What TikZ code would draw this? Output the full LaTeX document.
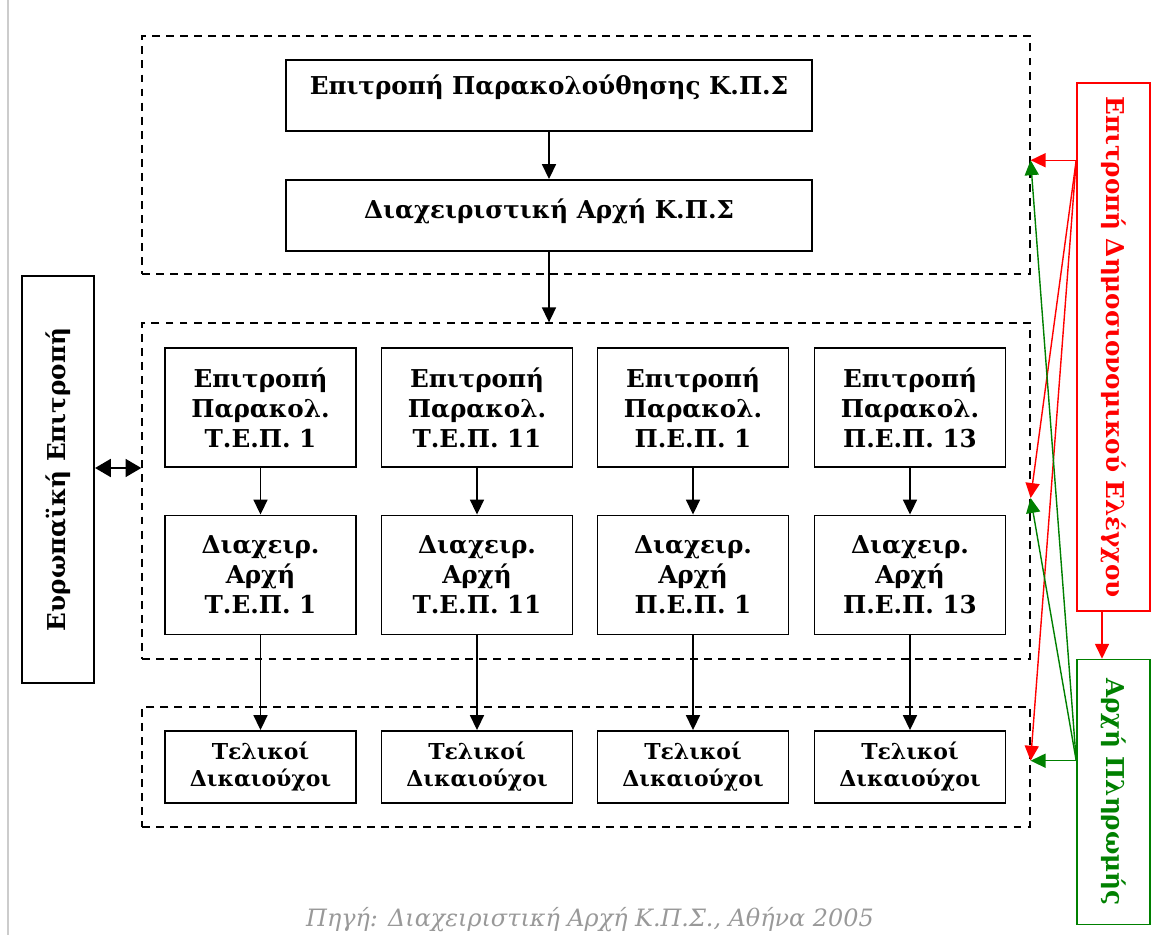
\documentclass[tikz,border=0pt]{standalone}
\usepackage{fontspec}
\setmainfont{DejaVu Serif}
\usetikzlibrary{arrows.meta}
\begin{document}
\begin{tikzpicture}[x=0.02cm,y=-0.02cm,
    box/.style={draw,line width=1.1pt,align=center,inner sep=1pt,font=\fontsize{14}{17}\selectfont\bfseries},
    grp/.style={draw,line width=0.8pt,dash pattern=on 4.5pt off 3.5pt},
    arr/.style={-{Triangle[length=8.5pt,width=8pt]},line width=0.8pt}]
  \useasboundingbox (0,0) rectangle (1163,935);
  \draw[black!20,line width=1.1pt] (8,0) -- (8,935);
  % dashed groups
  \node[grp,minimum width=17.76cm,minimum height=4.76cm] (top) at (586,155) {};
  \node[grp,minimum width=17.76cm,minimum height=6.72cm] (mid) at (586,491) {};
  \node[grp,minimum width=17.76cm,minimum height=2.4cm] (bot) at (586,767) {};
  % national level
  \node[box,inner sep=0pt,minimum width=10.52cm,text height=0.7cm,text depth=0.72cm] (epks) at (549,95.5) {Επιτροπή Παρακολούθησης Κ.Π.Σ};
  \node[box,inner sep=0pt,minimum width=10.52cm,text height=0.78cm,text depth=0.64cm] (daks) at (549,215.5) {Διαχειριστική Αρχή Κ.Π.Σ};
  \draw[arr] (epks) -- (daks);
  \draw[arr] (daks) -- (daks.south |- mid.north);
  % programmes
  \foreach \i/\x/\lab in {1/260.5/Τ.Ε.Π. 1, 2/477/Τ.Ε.Π. 11, 3/693/Π.Ε.Π. 1, 4/910/Π.Ε.Π. 13}{
    \node[box,minimum width=3.82cm,minimum height=2.38cm] (p\i) at (\x,407.5) {Επιτροπή\\Παρακολ.\\\lab};
    \node[box,minimum width=3.82cm,minimum height=2.38cm] (d\i) at (\x,575) {Διαχειρ.\\Αρχή\\\lab};
    \node[box,minimum width=3.82cm,minimum height=1.44cm,font=\fontsize{12.5}{15.5}\selectfont\bfseries] (t\i) at (\x,767) {Τελικοί\\Δικαιούχοι};
    \draw[arr] (p\i) -- (d\i);
    \draw[arr] (d\i) -- (t\i);
  }
  % european commission
  \node[box,minimum width=1.44cm,minimum height=8.14cm] (ee) at (58,479.5) {\rotatebox{90}{Ευρωπαϊκή Επιτροπή}};
  \draw[{Triangle[length=9pt,width=10pt]}-{Triangle[length=9pt,width=10pt]},line width=1.7pt]
    ([yshift=0.23cm]ee.east) -- ([yshift=0.23cm]ee.east -| mid.west);
  % control and payment
  \node[box,draw=red,text=red,line width=0.9pt,minimum width=1.46cm,minimum height=10.56cm] (edl) at (1113.5,347) {\rotatebox{-90}{Επιτροπή Δημοσιονομικού Ελέγχου}};
  \node[box,draw=green!50!black,text=green!50!black,line width=0.9pt,minimum width=1.46cm,minimum height=5.3cm] (ap) at (1113.5,792) {\rotatebox{-90}{Αρχή Πληρωμής}};
  \coordinate (rx) at (1102,0);
  \draw[arr,red] (edl.south -| rx) -- (ap.north -| rx);
  \coordinate (rs) at ([yshift=-1.56cm]edl.north west);
  \coordinate (gs) at ([yshift=-2.04cm]ap.north west);
  \coordinate (in1) at (top.east |- rs);
  \coordinate (in2) at ([yshift=-0.14cm]mid.east);
  \coordinate (in3) at (bot.east |- gs);
  \foreach \t in {in1,in2,in3} \draw[arr,red] (rs) -- (\t);
  \foreach \t in {in1,in2,in3} \draw[arr,green!50!black] (gs) -- (\t);
  % source
  \node[anchor=base,inner sep=0pt,text=black!40,font=\fontsize{13.6}{15}\selectfont\itshape] (src) at (590,926) {Πηγή: Διαχειριστική Αρχή Κ.Π.Σ., Αθήνα 2005};
\end{tikzpicture}
\end{document}
